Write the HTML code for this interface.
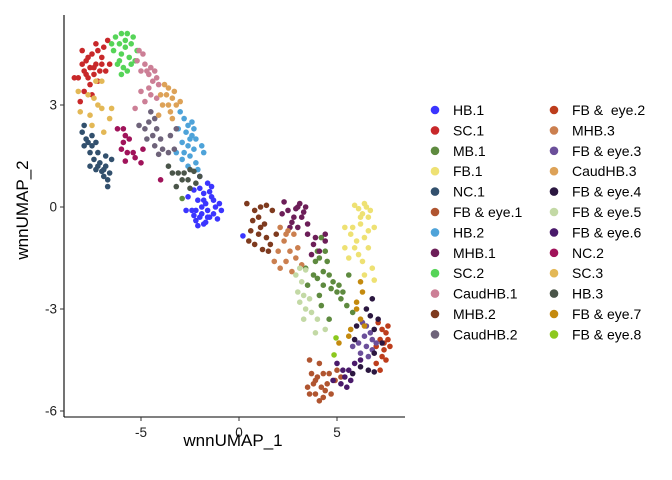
<!DOCTYPE html>
<html><head><meta charset="utf-8">
<style>
html,body{margin:0;padding:0;background:#fff;}
svg{display:block;font-family:"Liberation Sans",Arial,sans-serif;}
</style></head>
<body>
<svg id="chart" width="672" height="480" viewBox="0 0 672 480">
  <g id="points"></g>
  <line x1="64" y1="15" x2="64" y2="417" stroke="#000" stroke-width="1.1"/>
  <line x1="64" y1="417" x2="405" y2="417" stroke="#000" stroke-width="1.1"/>
  <g id="ticks"></g>
  <text x="233" y="446" font-size="17" text-anchor="middle" fill="#000">wnnUMAP_1</text>
  <text transform="translate(28,210) rotate(-90)" font-size="17" text-anchor="middle" fill="#000">wnnUMAP_2</text>
  <g id="legend"></g>
</svg>
<script>
const categories = ["HB.1","SC.1","MB.1","FB.1","NC.1","FB & eye.1","HB.2","MHB.1","SC.2","CaudHB.1","MHB.2","CaudHB.2","FB &  eye.2","MHB.3","FB & eye.3","CaudHB.3","FB & eye.4","FB & eye.5","FB & eye.6","NC.2","SC.3","HB.3","FB & eye.7","FB & eye.8"];
const colors = ["#3B35FF","#C8282A","#5E8A3F","#EEE173","#32506D","#B05530","#4EA3D9","#6C1E58","#56D458","#CC7F96","#7E3A1E","#6E637A","#BD3D1C","#CB7F4F","#6B4F9A","#DDA258","#2B1740","#C3D9A5","#4A1A6B","#A0135A","#E3B856","#4A5549","#C48A0E","#8CC81E"];
const xTicks = [-5,0,5];
const yTicks = [3,0,-3,-6];
const hb1 = [[-2.0,0.9],[-1.6,0.7],[-2.3,0.5],[-1.8,0.4],[-1.4,0.3],[-2.1,0.2],[-1.7,0.1],[-1.2,0.0],[-2.4,-0.1],[-1.9,-0.2],[-1.5,-0.3],[-2.2,-0.4],[-1.8,-0.5],[-1.3,-0.2],[-2.6,0.3],[-1.0,0.1],[-2.0,-0.3],[-1.6,-0.1],[-2.3,-0.25],[-1.1,-0.35],[-2.7,-0.1],[-1.4,0.6],[-0.9,-0.1],[-2.0,0.55],[-1.7,-0.45],[0.2,-0.85],[-1.5,0.45],[-1.9,0.0],[-2.2,-0.1],[-1.3,0.2],[-1.6,-0.3],[-2.1,-0.55],[-1.8,0.2]];
const sc1 = [[-7.8,4.3],[-7.5,4.5],[-7.2,4.6],[-7.9,4.0],[-7.6,4.1],[-7.3,4.2],[-7.0,4.4],[-8.2,3.8],[-7.7,3.8],[-7.4,3.9],[-6.8,4.0],[-6.9,4.7],[-6.7,4.9],[-8.0,4.2],[-7.6,3.6],[-7.9,3.4],[-7.5,3.3],[-8.1,3.1],[-7.2,3.7],[-8.4,3.8],[-6.6,4.2],[-7.3,4.8],[-8.0,4.6],[-7.7,4.4],[-7.4,4.1],[-7.1,4.0],[-7.8,3.9],[-7.0,4.2]];
const mb1 = [[4.2,-0.9],[4.0,-1.3],[3.9,-1.6],[4.1,-1.5],[4.5,-1.6],[4.3,-1.9],[4.6,-2.0],[4.3,-2.3],[3.8,-2.0],[3.5,-2.3],[4.7,-2.4],[5.0,-2.5],[5.2,-2.7],[5.5,-2.9],[5.8,-3.1],[4.1,-2.6],[4.2,-2.9],[4.6,-3.3],[5.3,-2.5],[5.6,-2.0],[3.4,-1.8],[-2.9,0.25],[4.4,-1.3],[4.8,-2.2],[5.1,-2.3],[4.0,-2.1]];
const fb1 = [[5.9,0.05],[6.1,-0.05],[6.5,0.0],[6.3,-0.2],[6.6,-0.3],[6.2,-0.5],[5.8,-0.6],[6.9,-0.6],[5.4,-0.6],[5.7,-0.8],[6.4,-0.9],[6.6,-1.2],[6.0,-1.0],[5.4,-1.2],[6.3,-1.6],[6.8,-1.8],[6.4,-2.0],[6.9,-2.15],[5.6,-1.5],[6.6,-0.7],[6.1,-1.4],[6.4,0.1],[6.7,-0.1],[6.2,-0.3],[5.9,-1.2]];
const nc1 = [[-8.0,2.2],[-7.8,2.0],[-7.9,1.8],[-7.5,1.8],[-7.3,1.9],[-7.6,1.6],[-7.4,1.4],[-7.1,1.3],[-7.6,1.2],[-7.3,1.1],[-7.0,1.05],[-6.8,1.2],[-6.9,0.9],[-6.6,1.0],[-6.7,0.8],[-7.2,1.6],[-6.8,1.5],[-7.9,2.4],[-6.5,1.4],[-7.5,2.1],[-6.7,0.6],[-7.7,1.9],[-7.2,1.2],[-6.9,1.1]];
const fbeye1 = [[3.6,-4.5],[4.1,-4.6],[3.7,-4.9],[4.0,-5.0],[4.3,-4.9],[4.6,-4.9],[5.0,-4.8],[3.8,-5.2],[4.2,-5.3],[4.5,-5.2],[4.9,-5.1],[3.9,-5.5],[4.3,-5.6],[4.7,-5.5],[3.5,-5.3],[4.1,-5.7],[5.2,-5.0],[3.9,-5.1],[4.4,-5.4],[3.6,-5.5]];
const hb2 = [[-3.0,2.8],[-2.8,2.6],[-2.6,2.4],[-3.1,2.3],[-2.7,2.2],[-2.4,2.1],[-2.2,2.0],[-2.9,1.9],[-2.6,1.8],[-2.3,1.7],[-2.8,1.6],[-2.5,1.5],[-2.9,1.4],[-2.2,1.3],[-2.1,1.1],[-1.8,1.6],[-2.4,2.5],[-1.9,1.8],[-3.2,1.6],[-2.6,1.2],[-2.5,2.0],[-2.3,2.3]];
const mhb1 = [[2.3,0.15],[2.5,-0.1],[2.9,-0.05],[3.1,0.1],[3.4,0.0],[3.2,-0.3],[2.8,-0.3],[3.5,-0.5],[2.6,-0.6],[3.0,-0.6],[3.5,-0.8],[3.9,-0.9],[4.4,-0.8],[3.8,-1.1],[4.1,-1.3],[3.7,-1.4],[2.2,-0.2],[4.4,-1.0],[3.0,0.0],[3.3,-0.15],[2.7,-0.45]];
const sc2 = [[-6.3,5.0],[-6.0,5.1],[-5.7,5.1],[-5.4,5.0],[-6.1,4.8],[-5.8,4.7],[-5.5,4.8],[-6.4,4.6],[-6.0,4.5],[-5.6,4.4],[-5.2,4.6],[-6.2,4.2],[-5.9,4.1],[-5.5,4.2],[-5.3,4.3],[-6.0,3.9],[-5.7,4.0],[-6.5,4.8],[-5.8,4.9],[-6.1,4.3]];
const caudhb1 = [[-5.1,4.6],[-4.9,4.5],[-5.2,4.3],[-4.8,4.2],[-4.5,4.1],[-5.0,4.0],[-4.6,3.9],[-4.3,4.0],[-4.2,3.8],[-4.1,3.6],[-4.6,3.5],[-5.0,3.4],[-4.8,3.1],[-4.2,3.2],[-5.3,2.9],[-4.5,3.3],[-4.4,3.7],[-4.7,4.0]];
const mhb2 = [[0.4,0.1],[0.8,-0.1],[1.1,0.0],[1.4,0.05],[1.7,-0.1],[0.7,-0.4],[1.0,-0.3],[1.3,-0.5],[0.6,-0.7],[1.0,-0.8],[1.4,-0.9],[0.8,-1.1],[1.2,-1.25],[1.5,-1.3],[1.9,-0.8],[0.5,-1.0],[1.6,-1.1],[1.1,-0.6]];
const caudhb2 = [[-4.5,2.8],[-4.3,2.6],[-4.6,2.5],[-4.2,2.3],[-4.8,2.3],[-4.4,2.1],[-4.0,2.0],[-4.7,2.0],[-4.3,1.8],[-3.9,1.7],[-3.6,1.6],[-3.3,1.7],[-4.1,1.55],[-3.5,2.1],[-3.2,2.3],[-5.1,2.4]];
const fbeye2 = [[7.1,-3.4],[7.3,-3.6],[7.5,-3.7],[7.2,-3.9],[7.6,-3.9],[7.0,-4.1],[7.4,-4.2],[7.7,-4.1],[7.3,-4.4],[7.0,-4.6],[7.5,-4.5],[7.2,-4.8],[7.6,-3.5],[7.4,-4.0]];
const mhb3 = [[2.1,-0.6],[2.5,-0.7],[2.8,-0.8],[2.3,-1.0],[2.0,-1.3],[2.6,-1.3],[2.9,-1.5],[2.4,-1.6],[3.2,-1.7],[2.7,-1.9],[2.1,-1.8],[3.0,-1.2],[1.8,-1.6],[2.4,-0.8]];
const fbeye3 = [[6.3,-3.4],[6.5,-3.5],[6.7,-3.7],[6.4,-3.8],[6.8,-3.9],[6.1,-4.0],[6.5,-4.1],[6.8,-4.2],[6.2,-4.3],[6.6,-4.4],[5.8,-4.1],[7.0,-4.0]];
const caudhb3 = [[-4.0,3.3],[-3.7,3.3],[-3.4,3.2],[-3.2,3.0],[-3.6,3.0],[-3.9,3.0],[-3.3,3.4],[-3.8,3.6],[-3.0,3.1],[-3.5,2.8],[-4.1,2.7],[-3.4,2.6],[-3.6,3.5]];
const fbeye4 = [[6.8,-2.7],[6.5,-3.0],[6.7,-3.2],[7.1,-3.3],[6.9,-3.6],[5.8,-4.9],[6.2,-4.7],[6.6,-4.8],[6.9,-4.85],[7.3,-4.0],[6.9,-4.3],[6.0,-3.5],[5.9,-3.9]];
const fbeye5 = [[3.1,-1.8],[3.4,-1.85],[2.9,-2.0],[3.2,-2.2],[3.0,-2.5],[3.3,-2.6],[3.6,-2.7],[3.1,-2.8],[3.4,-3.0],[3.7,-3.1],[4.0,-3.3],[3.3,-3.3],[4.4,-3.6],[3.9,-3.7]];
const fbeye6 = [[5.0,-4.6],[5.3,-4.8],[5.6,-4.8],[5.9,-4.6],[6.2,-4.5],[5.4,-5.0],[5.7,-5.1],[5.2,-5.2],[5.5,-5.3],[4.8,-5.1]];
const nc2 = [[-6.2,2.3],[-5.9,2.3],[-5.8,2.1],[-5.6,2.0],[-5.9,1.9],[-6.0,1.7],[-5.7,1.6],[-5.4,1.6],[-5.8,1.35],[-5.3,1.45],[-4.9,1.7],[-5.0,1.3],[-4.0,0.8]];
const sc3 = [[-7.3,3.7],[-7.0,3.7],[-7.7,3.3],[-7.4,3.2],[-7.2,3.0],[-7.0,2.9],[-8.1,2.8],[-7.6,2.7],[-6.5,2.9],[-6.6,2.6],[-7.5,2.4],[-6.9,2.2],[-8.2,3.4]];
const hb3 = [[-3.6,1.2],[-3.4,1.0],[-3.1,1.0],[-2.8,1.0],[-2.5,1.1],[-2.3,1.05],[-2.9,0.8],[-2.6,0.8],[-2.2,0.7],[-3.2,0.6],[-2.5,0.55],[-2.0,0.9]];
const fbeye7 = [[6.2,-2.2],[6.3,-2.5],[6.0,-2.8],[6.0,-3.0],[6.2,-3.3],[5.7,-3.6],[5.6,-3.8],[6.4,-3.5],[5.1,-4.0]];
const fbeye8 = [[4.95,-3.85],[4.85,-4.35]];
const seriesPoints = [hb1,sc1,mb1,fb1,nc1,fbeye1,hb2,mhb1,sc2,caudhb1,mhb2,caudhb2,fbeye2,mhb3,fbeye3,caudhb3,fbeye4,fbeye5,fbeye6,nc2,sc3,hb3,fbeye7,fbeye8];

const NS = "http://www.w3.org/2000/svg";
function xScale(v){ return 239 + v*19.6; }
function yScale(v){ return 207 - v*34; }

const pg = document.getElementById('points');
seriesPoints.forEach(function(pts, si){
  pts.forEach(function(p){
    const c = document.createElementNS(NS,'circle');
    c.setAttribute('cx', xScale(p[0]));
    c.setAttribute('cy', yScale(p[1]));
    c.setAttribute('r', 2.8);
    c.setAttribute('fill', colors[si]);
    
    
    pg.appendChild(c);
  });
});

const tg = document.getElementById('ticks');
xTicks.forEach(function(t){
  const x = xScale(t);
  const l = document.createElementNS(NS,'line');
  l.setAttribute('x1',x); l.setAttribute('x2',x); l.setAttribute('y1',417); l.setAttribute('y2',421);
  l.setAttribute('stroke','#333');
  
  
  tg.appendChild(l);
  const tx = document.createElementNS(NS,'text');
  tx.setAttribute('x',x); tx.setAttribute('y',437);
  tx.setAttribute('text-anchor','middle'); tx.setAttribute('font-size','13.5'); tx.setAttribute('fill','#222');
  tx.textContent = t;
  
  
  tg.appendChild(tx);
});
yTicks.forEach(function(t){
  const y = yScale(t);
  const l = document.createElementNS(NS,'line');
  l.setAttribute('x1',60); l.setAttribute('x2',64); l.setAttribute('y1',y); l.setAttribute('y2',y);
  l.setAttribute('stroke','#333');
  
  
  tg.appendChild(l);
  const tx = document.createElementNS(NS,'text');
  tx.setAttribute('x',57); tx.setAttribute('y',y+4.5);
  tx.setAttribute('text-anchor','end'); tx.setAttribute('font-size','13.5'); tx.setAttribute('fill','#222');
  tx.textContent = t;
  
  
  tg.appendChild(tx);
});

const lg = document.getElementById('legend');
categories.forEach(function(name, i){
  const col = i < 12 ? 0 : 1;
  const row = i % 12;
  const y = 110 + row*20.4;
  const dx = col === 0 ? 435 : 554;
  const g = document.createElementNS(NS,'g');
  
  
  const c = document.createElementNS(NS,'circle');
  c.setAttribute('cx', dx); c.setAttribute('cy', y); c.setAttribute('r', 4.3);
  c.setAttribute('fill', colors[i]);
  
  
  g.appendChild(c);
  const t = document.createElementNS(NS,'text');
  t.setAttribute('x', dx + 18); t.setAttribute('y', y + 5);
  t.setAttribute('font-size', '14'); t.setAttribute('fill', '#000');
  t.setAttribute('xml:space', 'preserve');
  t.style.whiteSpace = 'pre';
  t.textContent = name;
  
  
  g.appendChild(t);
  lg.appendChild(g);
});
</script>
</body></html>
